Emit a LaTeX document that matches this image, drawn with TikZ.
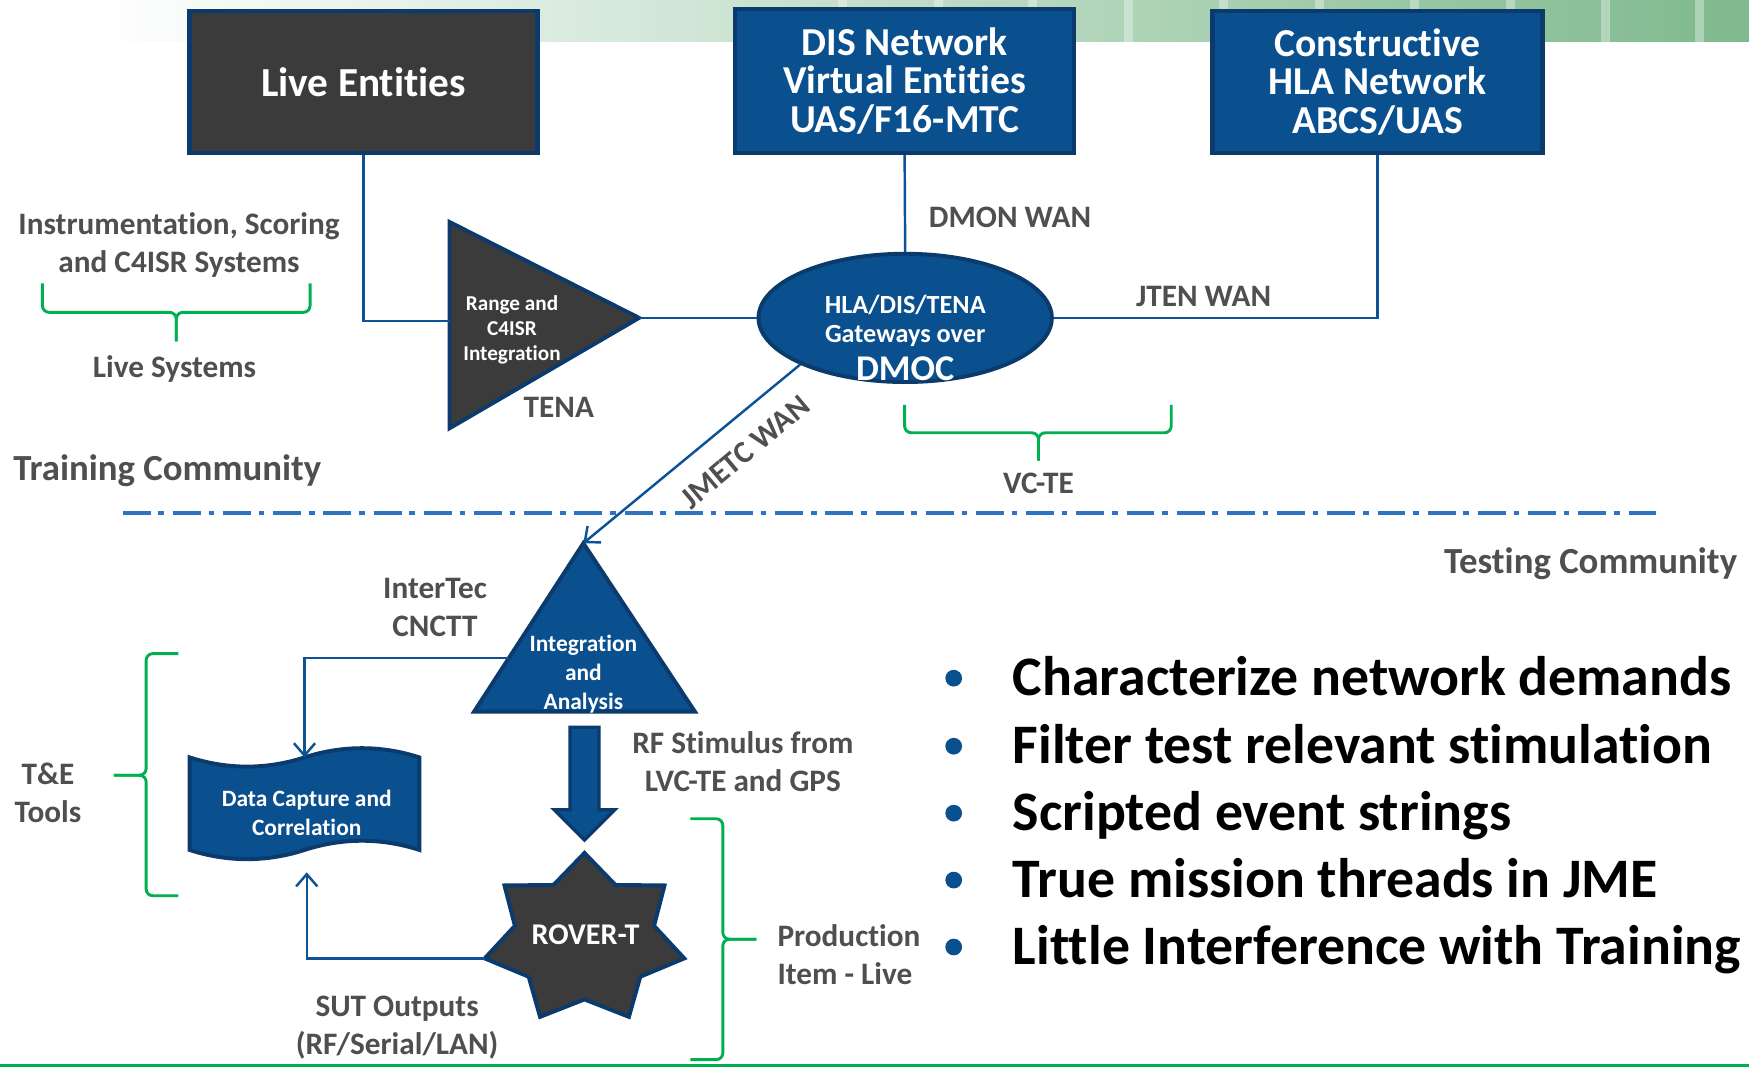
\documentclass[tikz,border=0pt]{standalone}
\usepackage{fontspec}
\setmainfont[Ligatures=NoCommon]{Carlito}
\usetikzlibrary{arrows.meta,shapes.geometric}

\definecolor{BoxBlue}{HTML}{0A4F8E}
\definecolor{EdgeBlue}{HTML}{0B3A6C}
\definecolor{DarkFill}{HTML}{3B3B3B}
\definecolor{LineBlue}{HTML}{0E5296}
\definecolor{DashBlue}{HTML}{2E74C2}
\definecolor{BraceGreen}{HTML}{00B050}
\definecolor{LabelGray}{HTML}{4F4F4F}
\definecolor{BandGreen}{HTML}{7FB98D}

\newcommand{\txtsize}[2]{\fontsize{#1}{#2}\selectfont}

\begin{document}
\begin{tikzpicture}[
		%Global config
		x=1pt, y=-1pt,
		>={Straight Barb[length=11pt,width=19pt]},
		line width=2.2pt,
		%Styles
		BlueBox/.style={
			draw=EdgeBlue,
			line width=4pt,
			fill=BoxBlue,
			text=white,
			align=center,
			inner sep=0pt,
		},
		DarkBox/.style={
			BlueBox,
			fill=DarkFill,
		},
		BlueShape/.style={
			draw=EdgeBlue,
			line width=3.5pt,
			fill=BoxBlue,
		},
		DarkShape/.style={
			BlueShape,
			fill=DarkFill,
		},
		WhiteText/.style={
			text=white,
			align=center,
			inner sep=0pt,
		},
		Link/.style={
			draw=LineBlue,
			line width=2.2pt,
		},
		Brace/.style={
			draw=BraceGreen,
			line width=2.6pt,
			rounded corners=6pt,
		},
		Label/.style={
			text=LabelGray,
			align=center,
			inner sep=0pt,
			font=\bfseries\txtsize{28}{34},
		},
		Bullet/.style={
			anchor=base west,
			inner sep=0pt,
			font=\bfseries\txtsize{50}{60},
		},
	]

		\useasboundingbox (0,0) rectangle (1568,957);

		% band at the top
		\shade[left color=white, middle color=BandGreen!35, right color=BandGreen] (82,0) rectangle (1568,37.5);
		\foreach \x in {751,837,922,1008,1093,1179,1264,1350,1435,1520}
			\fill[white, opacity=0.35] (\x,0) rectangle ++(8,37.5);

		% the three sources
		\node[DarkBox, minimum width=312, minimum height=127, font=\bfseries\txtsize{37}{40}] (live) at (326,73.5) {Live Entities};
		\node[BlueBox, minimum width=304, minimum height=129, font=\bfseries\txtsize{35.5}{34.5}] (dis) at (811,72.5) {DIS Network\\Virtual Entities\\UAS/F16-MTC};
		\node[BlueBox, minimum width=296, minimum height=127, font=\bfseries\txtsize{35.5}{34.5}] (cons) at (1235,73.5) {Constructive\\HLA Network\\ABCS/UAS};

		% range triangle
		\draw[DarkShape] (403,199) -- (573,285) -- (403,384) -- cycle;
		\coordinate (range-w) at (403,288);
		\coordinate (range-e) at (573,285);
		\node[WhiteText, font=\bfseries\txtsize{19}{22.5}] (range) at (459,296) {Range and\\C4ISR\\Integration};

		% gateway ellipse
		\node[BlueShape, ellipse, minimum width=263, minimum height=115, inner sep=0pt] (dmoc) at (811.5,285) {};
		\node[WhiteText, font=\bfseries\txtsize{23.5}{26}] (gw) at (811.5,288) {HLA/DIS/TENA\\Gateways over};
		\node[WhiteText, font=\bfseries\txtsize{32.5}{34}] (gw-dmoc) at (811.5,331) {DMOC};

		% integration triangle
		\draw[BlueShape] (523,487) -- (623,638) -- (425,638) -- cycle;
		\coordinate (intg-top) at (523,487);
		\coordinate (intg-w) at (456,590);
		\node[WhiteText, font=\bfseries\txtsize{21}{26}] (intg) at (523,604) {Integration\\and\\Analysis};

		% block arrow
		\draw[BlueShape, line width=3pt] (511,652) -- (537,652) -- (537,726) -- (551,726) -- (524,753) -- (497,726) -- (511,726) -- cycle;

		% data capture tape
		\draw[BlueShape] (170,679) .. controls (204,690) and (239,690) .. (273,679) .. controls (307,668) and (342,668) .. (376,679)
			-- (376,762) .. controls (342,751) and (307,751) .. (273,762) .. controls (239,773) and (204,773) .. (170,762) -- cycle;
		\coordinate (tape-n) at (273,679);
		\coordinate (tape-s) at (275,782);
		\node[WhiteText, font=\bfseries\txtsize{21}{26}] (tape) at (275,729) {Data Capture and\\Correlation};

		% rover star
		\begin{scope}[shift={(524,842)}]
			\draw[DarkShape] (270:91.8 and 77.3) \foreach \k in {1,...,7} { -- ({270+(\k-0.5)*360/7}:64 and 54) -- ({270+\k*360/7}:91.8 and 77.3) } -- cycle;
		\end{scope}
		\coordinate (rover-w) at (434.5,859.3);
		\node[WhiteText, font=\bfseries\txtsize{27}{30}] (rover) at (525,838) {ROVER-T};

		% links
		\draw[Link] (live.south) |- (range-w);
		\draw[Link] (range-e) -- (dmoc.west);
		\draw[Link] (dis.south) -- (dmoc.north);
		\draw[Link] (dmoc.east) -| (cons.south);
		\draw[Link, ->] (dmoc.south west) -- (intg-top);
		\draw[Link, ->] (intg-w) -| (tape-n);
		\draw[Link, ->] (rover-w) -| (tape-s);

		% braces
		\draw[Brace] (38,254) |- (158,280) -- (158,306);
		\draw[Brace] (278,254) |- (158,280) -- (158,306);
		\draw[Brace] (811,363) |- (931,388) -- (931,413);
		\draw[Brace] (1050,363) |- (931,388) -- (931,413);
		\draw[Brace] (160,586) -| (131,695) -- (102,695);
		\draw[Brace] (160,803) -| (131,695) -- (102,695);
		\draw[Brace] (619,734) -| (648,842) -- (678,842);
		\draw[Brace] (619,950) -| (648,842) -- (678,842);

		% community split
		\draw[DashBlue, line width=3pt, dash pattern=on 25pt off 7pt on 5pt off 8pt] (110,460) -- (1490,460);
		\draw[BraceGreen, line width=3pt] (0,955) -- (1568,955);

		% labels
		\node[Label] (dmon) at (905.5,195) {DMON WAN};
		\node[Label] (jten) at (1079,266) {JTEN WAN};
		\node[Label] (tena) at (501,365) {TENA};
		\node[Label] (instr) at (160.5,220) {Instrumentation, Scoring\\and C4ISR Systems};
		\node[Label] (livesys) at (156.5,331) {Live Systems};
		\node[Label, font=\bfseries\txtsize{33}{38}] (training) at (150,422) {Training Community};
		\node[Label] (vcte) at (931,433) {VC-TE};
		\node[Label, rotate=40] (jmetc) at (668,405) {JMETC WAN};
		\node[Label, font=\bfseries\txtsize{33}{38}] (testing) at (1426,505) {Testing Community};
		\node[Label] (intertec) at (390,545) {InterTec\\CNCTT};
		\node[Label] (tools) at (43,711) {T\&E\\Tools};
		\node[Label] (rfstim) at (666,683) {RF Stimulus from\\LVC-TE and GPS};
		\node[Label] (sut) at (356,921) {SUT Outputs\\(RF/Serial/LAN)};
		\node[Label, anchor=west, align=left] (prod) at (696,856) {Production\\Item - Live};

		% bullet list
		\foreach \y/\txt in {608/Characterize network demands, 669/Filter test relevant stimulation, 729/Scripted event strings, 789/True mission threads in JME, 849/Little Interference with Training}{
			\fill[BoxBlue] (855,\y) circle (7.5pt);
			\node[Bullet] (item-\y) at (907,\y+15.5) {\txt};
		}
	\end{tikzpicture}
\end{document}
